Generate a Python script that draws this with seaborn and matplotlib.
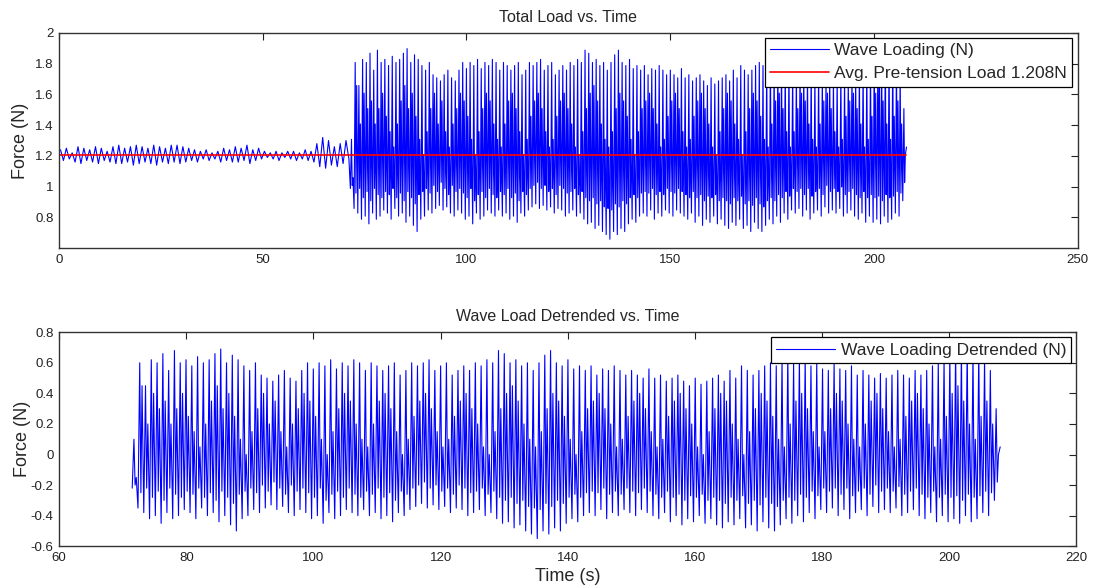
import numpy as np
import pandas as pd
import matplotlib
matplotlib.use("Agg")
import matplotlib.pyplot as plt
import seaborn as sns

# ---- Data ----
avg_load = 1.208

# calm section before the waves arrive (absolute force, N), one peak + trough per cycle
pre_start, pre_end = 0.0, 71.5
pre_peaks = [1.24, 1.25, 1.22, 1.26, 1.25, 1.24, 1.26, 1.25, 1.23, 1.26,
             1.27, 1.25, 1.26, 1.27, 1.26, 1.25, 1.27, 1.26, 1.25, 1.27,
             1.27, 1.26, 1.25, 1.24, 1.23, 1.24, 1.22, 1.23, 1.25, 1.24,
             1.26, 1.25, 1.27, 1.24, 1.25, 1.23, 1.22, 1.23, 1.22, 1.23,
             1.23, 1.22, 1.24, 1.23, 1.28, 1.32, 1.30, 1.26, 1.28, 1.30]
pre_troughs = [1.17, 1.18, 1.16, 1.15, 1.17, 1.16, 1.15, 1.17, 1.16, 1.15,
               1.15, 1.16, 1.14, 1.15, 1.16, 1.15, 1.14, 1.16, 1.15, 1.16,
               1.15, 1.16, 1.17, 1.16, 1.18, 1.17, 1.18, 1.16, 1.17, 1.16,
               1.16, 1.17, 1.15, 1.17, 1.18, 1.19, 1.18, 1.17, 1.19, 1.18,
               1.17, 1.18, 1.17, 1.16, 1.13, 1.12, 1.14, 1.13, 1.15, 1.18]

# wave section, detrended (N): per cycle trough -> peak -> dip -> secondary peak
wave_start, wave_end = 71.5, 208.0
wave_peaks = [0.10, 0.60, 0.45, 0.62, 0.60, 0.66, 0.55, 0.68, 0.60, 0.62,
              0.58, 0.64, 0.60, 0.62, 0.66, 0.69, 0.60, 0.65, 0.62, 0.58,
              0.55, 0.60, 0.52, 0.50, 0.48, 0.52, 0.55, 0.50, 0.48, 0.55,
              0.60, 0.56, 0.60, 0.58, 0.62, 0.56, 0.60, 0.58, 0.62, 0.60,
              0.55, 0.60, 0.58, 0.55, 0.58, 0.60, 0.52, 0.55, 0.60, 0.58,
              0.60, 0.62, 0.55, 0.58, 0.60, 0.52, 0.55, 0.58, 0.55, 0.60,
              0.58, 0.62, 0.60, 0.68, 0.66, 0.60, 0.62, 0.58, 0.60, 0.55,
              0.60, 0.65, 0.68, 0.60, 0.58, 0.62, 0.56, 0.58, 0.55, 0.58,
              0.52, 0.56, 0.55, 0.58, 0.55, 0.52, 0.55, 0.52, 0.50, 0.56,
              0.50, 0.52, 0.48, 0.50, 0.52, 0.48, 0.45, 0.50, 0.46, 0.48,
              0.50, 0.52, 0.48, 0.55, 0.50, 0.58, 0.55, 0.52, 0.55, 0.58,
              0.60, 0.58, 0.62, 0.66, 0.60, 0.62, 0.63, 0.58, 0.60, 0.56,
              0.55, 0.60, 0.56, 0.55, 0.58, 0.52, 0.55, 0.52, 0.50, 0.53,
              0.50, 0.52, 0.55, 0.52, 0.50, 0.55, 0.52, 0.55, 0.58, 0.60,
              0.62, 0.65, 0.70, 0.68, 0.70, 0.66, 0.68, 0.62, 0.55, 0.30]
wave_troughs = [-0.22, -0.35, -0.38, -0.42, -0.40, -0.45, -0.38, -0.42, -0.40, -0.36,
                -0.38, -0.42, -0.35, -0.40, -0.38, -0.44, -0.40, -0.46, -0.50, -0.42,
                -0.40, -0.36, -0.38, -0.35, -0.33, -0.36, -0.34, -0.38, -0.40, -0.36,
                -0.38, -0.42, -0.40, -0.45, -0.38, -0.42, -0.40, -0.36, -0.38, -0.40,
                -0.36, -0.40, -0.38, -0.42, -0.40, -0.44, -0.38, -0.40, -0.36, -0.34,
                -0.32, -0.35, -0.33, -0.36, -0.34, -0.38, -0.35, -0.36, -0.40, -0.38,
                -0.36, -0.40, -0.38, -0.42, -0.45, -0.44, -0.48, -0.46, -0.50, -0.52,
                -0.55, -0.50, -0.52, -0.48, -0.50, -0.45, -0.42, -0.44, -0.40, -0.38,
                -0.40, -0.36, -0.42, -0.38, -0.40, -0.36, -0.38, -0.40, -0.36, -0.38,
                -0.40, -0.42, -0.38, -0.44, -0.40, -0.46, -0.42, -0.44, -0.40, -0.45,
                -0.42, -0.46, -0.48, -0.44, -0.46, -0.42, -0.48, -0.46, -0.50, -0.44,
                -0.48, -0.50, -0.46, -0.42, -0.45, -0.40, -0.44, -0.38, -0.42, -0.36,
                -0.38, -0.35, -0.40, -0.36, -0.42, -0.38, -0.36, -0.40, -0.34, -0.38,
                -0.36, -0.38, -0.35, -0.40, -0.38, -0.36, -0.40, -0.42, -0.38, -0.44,
                -0.40, -0.44, -0.42, -0.45, -0.40, -0.44, -0.42, -0.38, -0.40, -0.30]
wave_dips = [-0.20, -0.25, -0.22, -0.28, -0.24, -0.30, -0.22, -0.26, -0.28, -0.24,
             -0.26, -0.22, -0.28, -0.25, -0.30, -0.24, -0.28, -0.32, -0.26, -0.24,
             -0.22, -0.25, -0.20, -0.24, -0.18, -0.22, -0.26, -0.20, -0.24, -0.22,
             -0.25, -0.28, -0.22, -0.30, -0.26, -0.24, -0.28, -0.22, -0.26, -0.28,
             -0.24, -0.26, -0.22, -0.28, -0.25, -0.30, -0.24, -0.26, -0.22, -0.20,
             -0.18, -0.22, -0.20, -0.24, -0.22, -0.26, -0.20, -0.22, -0.25, -0.24,
             -0.22, -0.26, -0.24, -0.28, -0.30, -0.28, -0.32, -0.30, -0.34, -0.35,
             -0.36, -0.32, -0.34, -0.30, -0.32, -0.28, -0.26, -0.28, -0.25, -0.24,
             -0.25, -0.22, -0.26, -0.24, -0.26, -0.22, -0.24, -0.25, -0.22, -0.24,
             -0.26, -0.28, -0.24, -0.28, -0.26, -0.30, -0.27, -0.28, -0.26, -0.30,
             -0.28, -0.30, -0.32, -0.28, -0.30, -0.27, -0.32, -0.30, -0.33, -0.28,
             -0.32, -0.34, -0.30, -0.28, -0.30, -0.26, -0.28, -0.24, -0.27, -0.22,
             -0.24, -0.22, -0.26, -0.22, -0.27, -0.24, -0.22, -0.26, -0.20, -0.24,
             -0.22, -0.24, -0.21, -0.26, -0.24, -0.22, -0.26, -0.28, -0.24, -0.28,
             -0.26, -0.28, -0.27, -0.30, -0.26, -0.28, -0.27, -0.24, -0.25, -0.18]
wave_mids = [-0.15, 0.45, 0.20, 0.40, 0.30, 0.35, 0.20, 0.30, 0.40, 0.25,
             0.15, 0.05, 0.20, 0.35, 0.45, 0.30, 0.40, 0.25, 0.10, 0.00,
             0.15, 0.30, 0.40, 0.20, 0.35, 0.15, 0.05, 0.20, 0.30, 0.40,
             0.35, 0.25, 0.10, 0.00, 0.15, 0.30, 0.40, 0.35, 0.20, 0.10,
             0.05, 0.20, 0.35, 0.40, 0.30, 0.15, 0.00, 0.10, 0.25, 0.35,
             0.40, 0.30, 0.15, 0.05, 0.10, 0.25, 0.35, 0.40, 0.30, 0.20,
             0.05, 0.00, 0.15, 0.30, 0.40, 0.45, 0.35, 0.20, 0.10, 0.05,
             0.15, 0.30, 0.40, 0.35, 0.25, 0.10, 0.00, 0.15, 0.30, 0.35,
             0.40, 0.30, 0.20, 0.05, 0.10, 0.25, 0.35, 0.40, 0.30, 0.15,
             0.05, 0.10, 0.25, 0.35, 0.40, 0.30, 0.20, 0.05, 0.00, 0.15,
             0.30, 0.40, 0.35, 0.20, 0.10, 0.00, 0.15, 0.30, 0.40, 0.35,
             0.25, 0.10, 0.05, 0.20, 0.35, 0.40, 0.30, 0.15, 0.05, 0.15,
             0.30, 0.40, 0.35, 0.20, 0.10, 0.05, 0.20, 0.35, 0.40, 0.30,
             0.15, 0.05, 0.10, 0.25, 0.35, 0.40, 0.30, 0.20, 0.05, 0.10,
             0.25, 0.40, 0.45, 0.35, 0.20, 0.10, 0.25, 0.35, 0.20, 0.00]
wave_end_value = 0.05

# ---- Build time series ----
pre_period = (pre_end - pre_start) / len(pre_peaks)
pre_t, pre_y = [], []
for i in range(len(pre_peaks)):
    pre_t += [pre_start + (i + 0.25) * pre_period, pre_start + (i + 0.75) * pre_period]
    pre_y += [pre_peaks[i], pre_troughs[i]]

wave_period = (wave_end - wave_start) / len(wave_peaks)
phase = [0.0, 0.3, 0.5, 0.7]
wave_t, wave_y = [], []
for i in range(len(wave_peaks)):
    vals = [wave_troughs[i], wave_peaks[i], wave_dips[i], wave_mids[i]]
    for f, v in zip(phase, vals):
        wave_t.append(wave_start + (i + f) * wave_period)
        wave_y.append(v)
wave_t.append(wave_end)
wave_y.append(wave_end_value)

total_df = pd.DataFrame({"Time": pre_t + wave_t,
                         "Force": pre_y + [v + avg_load for v in wave_y]})
detr_df = pd.DataFrame({"Time": wave_t, "Force": wave_y})
avg_df = pd.DataFrame({"Time": [0.0, wave_end], "Force": [avg_load, avg_load]})

# ---- Style ----
sns.set_style("white")
plt.rcParams["font.family"] = ["Liberation Sans", "DejaVu Sans"]

fig = plt.figure(figsize=(10.94, 5.88), dpi=100)
ax1 = fig.add_axes([0.054, 0.578, 0.931, 0.366])
ax2 = fig.add_axes([0.054, 0.071, 0.930, 0.364])

# ---- Top: total load ----
sns.lineplot(data=total_df, x="Time", y="Force", ax=ax1, color="blue", lw=0.8,
             sort=False, estimator=None, label="Wave Loading (N)")
sns.lineplot(data=avg_df, x="Time", y="Force", ax=ax1, color="red", lw=1.2,
             sort=False, estimator=None, label="Avg. Pre-tension Load 1.208N")
ax1.set_xlim(0, 250)
ax1.set_ylim(0.6, 2.0)
ax1.set_xticks([0, 50, 100, 150, 200, 250])
ax1.set_xticklabels(["0", "50", "100", "150", "200", "250"])
ax1.set_yticks([0.8, 1.0, 1.2, 1.4, 1.6, 1.8, 2.0])
ax1.set_yticklabels(["0.8", "1", "1.2", "1.4", "1.6", "1.8", "2"])
ax1.set_title("Total Load vs. Time", fontsize=11.5, pad=8)
ax1.set_xlabel("")
ax1.set_ylabel("Force (N)", fontsize=13, labelpad=4)
leg1 = ax1.legend(loc="upper right", fontsize=12.5, frameon=True, fancybox=False,
                  framealpha=1, edgecolor="black", borderaxespad=0.3,
                  handlelength=3.4, borderpad=0.3, labelspacing=0.45, handletextpad=0.3)
leg1.get_frame().set_linewidth(0.9)

# ---- Bottom: detrended ----
sns.lineplot(data=detr_df, x="Time", y="Force", ax=ax2, color="blue", lw=0.8,
             sort=False, estimator=None, label="Wave Loading Detrended (N)")
ax2.set_xlim(60, 220)
ax2.set_ylim(-0.6, 0.8)
ax2.set_xticks(list(range(60, 221, 20)))
ax2.set_yticks([-0.6, -0.4, -0.2, 0, 0.2, 0.4, 0.6, 0.8])
ax2.set_yticklabels(["-0.6", "-0.4", "-0.2", "0", "0.2", "0.4", "0.6", "0.8"])
ax2.set_title("Wave Load Detrended vs. Time", fontsize=11.5, pad=8)
ax2.set_xlabel("Time (s)", fontsize=13, labelpad=3)
ax2.set_ylabel("Force (N)", fontsize=13, labelpad=0)
leg2 = ax2.legend(loc="upper right", fontsize=12.5, frameon=True, fancybox=False,
                  framealpha=1, edgecolor="black", borderaxespad=0.3,
                  handlelength=3.4, borderpad=0.3, handletextpad=0.3)
leg2.get_frame().set_linewidth(0.9)

for ax in (ax1, ax2):
    ax.tick_params(direction="in", top=True, right=True, length=5, width=0.8,
                   labelsize=9.5, colors="#222222", pad=4)
    for s in ax.spines.values():
        s.set_color("#333333")
        s.set_linewidth(1.0)

fig.savefig("out.png", dpi=100)
